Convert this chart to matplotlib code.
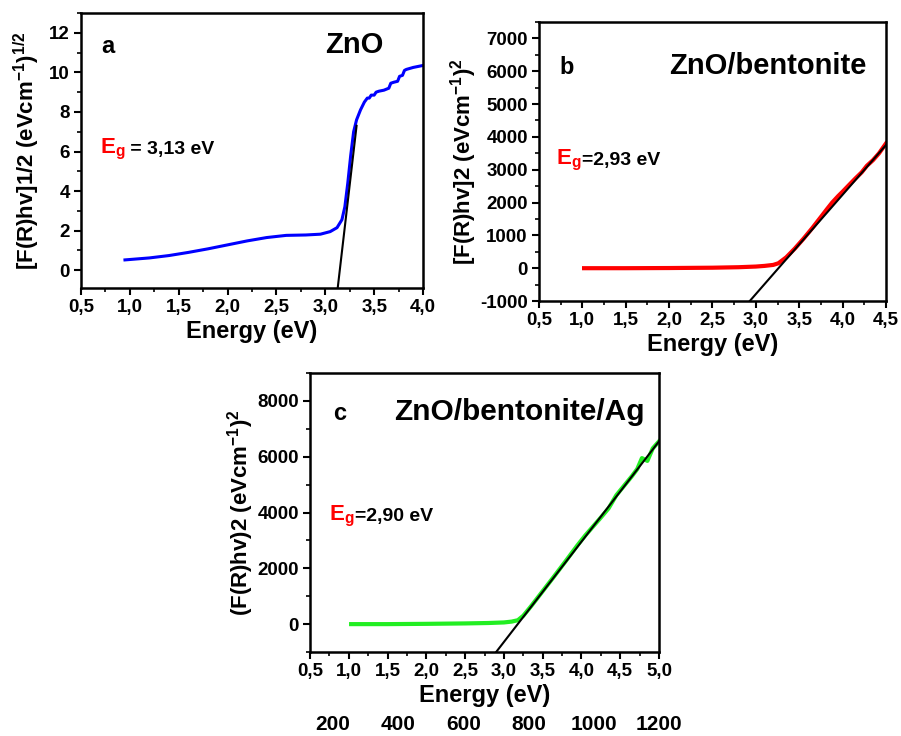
import numpy as np
import matplotlib.pyplot as plt
from matplotlib.ticker import MultipleLocator, FuncFormatter

plt.rcParams['font.family'] = ['Liberation Sans', 'DejaVu Sans']
plt.rcParams['font.weight'] = 'bold'
plt.rcParams['axes.unicode_minus'] = False
plt.rcParams['mathtext.fontset'] = 'custom'
plt.rcParams['mathtext.rm'] = 'Liberation Sans:bold'
plt.rcParams['mathtext.bf'] = 'Liberation Sans:bold'
plt.rcParams['mathtext.it'] = 'Liberation Sans:bold'

# (a) ZnO, [F(R)hv]^1/2
zno_e = [0.95, 1.2, 1.4, 1.6, 1.8, 2.0, 2.2, 2.4, 2.6, 2.8, 2.95, 3.05, 3.12, 3.17,
         3.20, 3.23, 3.26, 3.29, 3.32, 3.36, 3.40, 3.43, 3.45, 3.47, 3.50, 3.52,
         3.55, 3.60, 3.65, 3.67, 3.70, 3.74, 3.76, 3.79, 3.81, 3.83, 3.90, 4.0]
zno_f = [0.52, 0.62, 0.74, 0.90, 1.08, 1.28, 1.48, 1.65, 1.76, 1.78, 1.82, 1.95, 2.15, 2.55,
         3.2, 4.4, 5.8, 7.0, 7.6, 8.1, 8.5, 8.7, 8.7, 8.85, 8.85, 9.0,
         9.05, 9.1, 9.2, 9.45, 9.5, 9.55, 9.8, 9.85, 10.1, 10.15, 10.25, 10.35]
zno_fit_e = [3.127, 3.32]
zno_fit_f = [-0.9, 7.3]

# (b) ZnO/bentonite, [F(R)hv]^2
zb_e = [1.02, 1.5, 2.0, 2.5, 2.8, 3.0, 3.1, 3.2, 3.26, 3.35, 3.45, 3.55, 3.65, 3.75,
        3.82, 3.88, 3.95, 4.0, 4.08, 4.15, 4.22, 4.28, 4.35, 4.42, 4.5]
zb_f = [0, 0, 5, 15, 30, 50, 70, 100, 150, 330, 600, 900, 1220, 1560,
        1800, 2000, 2200, 2330, 2550, 2740, 2920, 3120, 3290, 3500, 3800]
zb_fit_e = [2.93, 4.5]
zb_fit_f = [-1000, 3750]

# (c) ZnO/bentonite/Ag, (F(R)hv)^2
zba_e = [1.03, 1.5, 2.0, 2.5, 2.8, 3.0, 3.1, 3.18, 3.25, 3.35, 3.5, 3.65, 3.8, 3.95,
         4.05, 4.15, 4.25, 4.35, 4.45, 4.55, 4.65, 4.72, 4.78, 4.85, 4.92, 5.0]
zba_f = [0, 0, 10, 25, 40, 60, 90, 140, 300, 640, 1180, 1720, 2270, 2830,
         3180, 3500, 3820, 4150, 4620, 4960, 5300, 5560, 5950, 5850, 6300, 6550]
zba_fit_e = [2.90, 5.0]
zba_fit_f = [-1000, 6550]

wavelength_ticks = [200, 400, 600, 800, 1000, 1200]

comma = FuncFormatter(lambda v, p: ('%.1f' % v).replace('.', ','))

fig = plt.figure(figsize=(9.01, 7.36), dpi=100)


def style_axes(ax, xlim, ylim, ymajor, yminor):
    ax.set_xlim(*xlim)
    ax.set_ylim(*ylim)
    ax.xaxis.set_major_locator(MultipleLocator(0.5))
    ax.xaxis.set_minor_locator(MultipleLocator(0.25))
    ax.xaxis.set_major_formatter(comma)
    ax.yaxis.set_major_locator(MultipleLocator(ymajor))
    ax.yaxis.set_minor_locator(MultipleLocator(yminor))
    for s in ax.spines.values():
        s.set_linewidth(1.8)
    ax.tick_params(which='major', direction='out', length=5, width=1.5,
                   labelsize=13.5, top=False, right=False, pad=3)
    ax.tick_params(which='minor', direction='out', length=3, width=1.2,
                   top=False, right=False)
    ax.set_xlabel('Energy (eV)', fontsize=17, fontweight='bold', labelpad=3)


def eg_label(ax, x, y, value):
    t = ax.text(x, y, r'$\mathbf{E_g}$', color='red', fontsize=16,
                transform=ax.transAxes, va='baseline')
    ax.annotate(value, xy=(1, 0), xycoords=t, fontsize=14, fontweight='bold',
                va='bottom', ha='left', xytext=(0, 3), textcoords='offset points')


# panel a
ax1 = fig.add_axes([0.0899, 0.6087, 0.3796, 0.3736])
ax1.plot(zno_e, zno_f, color='#0000ff', lw=2.2)
ax1.plot(zno_fit_e, zno_fit_f, color='black', lw=1.5)
style_axes(ax1, (0.5, 4.0), (-0.9, 13), 2, 1)
ax1.set_ylabel(r'[F(R)hv]1/2 (eVcm$^{\mathbf{-1}}$)$^{\mathbf{1/2}}$', fontsize=16,
               fontweight='bold', labelpad=5)
ax1.text(0.06, 0.855, 'a', transform=ax1.transAxes, fontsize=17)
ax1.text(0.80, 0.855, 'ZnO', transform=ax1.transAxes, fontsize=21, ha='center')
eg_label(ax1, 0.055, 0.49, ' = 3,13 eV')

# panel b
ax2 = fig.add_axes([0.5982, 0.5910, 0.3851, 0.3791])
ax2.plot(zb_e, zb_f, color='#ff0000', lw=3)
ax2.plot(zb_fit_e, zb_fit_f, color='black', lw=1.5)
style_axes(ax2, (0.5, 4.5), (-1000, 7500), 1000, 500)
ax2.set_ylabel(r'[F(R)hv]2 (eVcm$^{\mathbf{-1}}$)$^{\mathbf{2}}$', fontsize=16,
               fontweight='bold', labelpad=1)
ax2.text(0.06, 0.815, 'b', transform=ax2.transAxes, fontsize=17)
ax2.text(0.66, 0.815, 'ZnO/bentonite', transform=ax2.transAxes, fontsize=21, ha='center')
eg_label(ax2, 0.05, 0.49, '=2,93 eV')

# panel c
ax3 = fig.add_axes([0.3441, 0.1141, 0.3873, 0.3791])
ax3.plot(zba_e, zba_f, color='#22ee22', lw=3)
ax3.plot(zba_fit_e, zba_fit_f, color='black', lw=1.5)
style_axes(ax3, (0.5, 5.0), (-1000, 9000), 2000, 1000)
ax3.set_ylabel(r'(F(R)hv)2 (eVcm$^{\mathbf{-1}}$)$^{\mathbf{2}}$', fontsize=16,
               fontweight='bold', labelpad=1)
ax3.text(0.065, 0.83, 'c', transform=ax3.transAxes, fontsize=17)
ax3.text(0.60, 0.83, 'ZnO/bentonite/Ag', transform=ax3.transAxes, fontsize=21.5, ha='center')
eg_label(ax3, 0.055, 0.47, '=2,90 eV')

# wavelength scale under panel c
axw = ax3.secondary_xaxis(-0.22, functions=(lambda e: (e - 0.5) * 1070 / 4.5 + 130,
                                            lambda w: (w - 130) * 4.5 / 1070 + 0.5))
axw.set_xticks(wavelength_ticks)
axw.tick_params(length=0, labelsize=15, pad=1)
axw.spines['bottom'].set_visible(False)

fig.savefig('out.png', dpi=100)
